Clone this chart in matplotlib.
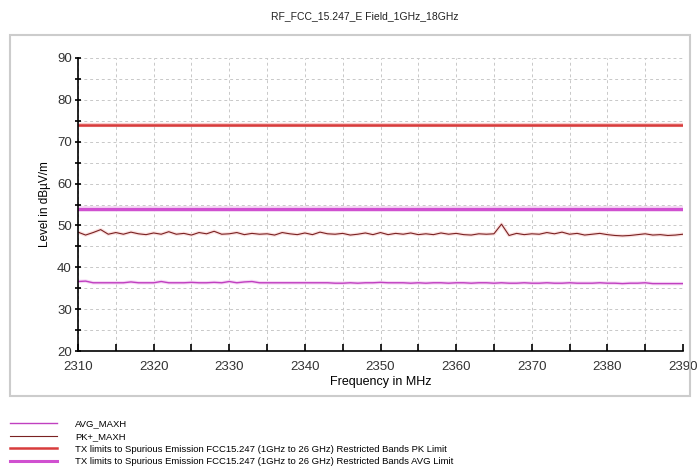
import numpy as np
import matplotlib.pyplot as plt
from matplotlib.patches import Rectangle
from matplotlib.lines import Line2D

# -----------------------------------------
# Datos
# -----------------------------------------
freq = np.arange(2310, 2391, 1)  # MHz

pk_maxh = [48.4, 47.7, 48.3, 49.0, 47.9, 48.3, 47.9, 48.4, 48.0, 47.8,
           48.2, 47.9, 48.5, 47.9, 48.1, 47.7, 48.3, 48.0, 48.6, 47.9,
           48.0, 48.3, 47.8, 48.1, 47.9, 48.0, 47.7, 48.3, 48.0, 47.8,
           48.2, 47.8, 48.4, 48.0, 47.9, 48.1, 47.7, 47.9, 48.2, 47.8,
           48.3, 47.8, 48.1, 47.9, 48.2, 47.8, 48.0, 47.8, 48.2, 47.9,
           48.1, 47.8, 47.7, 48.0, 47.9, 48.0, 50.3, 47.6, 48.1, 47.8,
           48.0, 47.9, 48.3, 48.0, 48.4, 47.9, 48.1, 47.7, 47.9, 48.1,
           47.8, 47.6, 47.5, 47.6, 47.8, 48.0, 47.7, 47.8, 47.6, 47.7,
           47.9]

avg_maxh = [36.6, 36.7, 36.3, 36.3, 36.3, 36.3, 36.3, 36.5, 36.3, 36.3,
            36.3, 36.6, 36.3, 36.3, 36.3, 36.4, 36.3, 36.3, 36.4, 36.3,
            36.6, 36.3, 36.5, 36.6, 36.3, 36.3, 36.3, 36.3, 36.3, 36.3,
            36.3, 36.3, 36.3, 36.3, 36.2, 36.2, 36.3, 36.2, 36.3, 36.3,
            36.4, 36.3, 36.3, 36.3, 36.2, 36.3, 36.2, 36.3, 36.3, 36.2,
            36.3, 36.3, 36.2, 36.3, 36.3, 36.2, 36.3, 36.2, 36.2, 36.3,
            36.2, 36.2, 36.3, 36.2, 36.2, 36.3, 36.2, 36.2, 36.2, 36.3,
            36.2, 36.2, 36.1, 36.2, 36.2, 36.3, 36.1, 36.1, 36.1, 36.1,
            36.1]

pk_limit = [74, 74]
avg_limit = [54, 54]
limit_freq = [2310, 2390]

labels = ["AVG_MAXH", "PK+_MAXH",
          "TX limits to Spurious Emission FCC15.247 (1GHz to 26 GHz) Restricted Bands PK Limit",
          "TX limits to Spurious Emission FCC15.247 (1GHz to 26 GHz) Restricted Bands AVG Limit"]

col_avg = "#c040c0"
col_pk = "#7a2222"
col_pklim = "#d83c3c"
col_avglim = "#d050d0"

# -----------------------------------------
# Figura
# -----------------------------------------
plt.rcParams['font.family'] = ['Liberation Sans', 'DejaVu Sans']
fig = plt.figure(figsize=(7, 4.75), dpi=100)

# marco gris alrededor del gráfico
fig.patches.append(Rectangle((10/700, 1-396/475), 680/700, 361/475,
                             transform=fig.transFigure, fill=False,
                             edgecolor="#cccccc", linewidth=1.5))

fig.text(365/700, 1-16/475, "RF_FCC_15.247_E Field_1GHz_18GHz",
         ha="center", va="center", fontsize=7.5, color="#222222")

ax = fig.add_axes([78/700, 1-351/475, 605/700, 293/475])

ax.plot(limit_freq, pk_limit, color="#f8cccc", lw=3, solid_capstyle="butt")
ax.plot(limit_freq, pk_limit, color=col_pklim, lw=1.8)
ax.plot(limit_freq, avg_limit, color="#f3d0f3", lw=4, solid_capstyle="butt")
ax.plot(limit_freq, avg_limit, color=col_avglim, lw=2.2)
ax.plot(freq, pk_maxh, color="#fbe0e0", lw=2.5)
ax.plot(freq, pk_maxh, color=col_pk, lw=0.8)
ax.plot(freq, avg_maxh, color="#f6d8f6", lw=2.5)
ax.plot(freq, avg_maxh, color=col_avg, lw=1.0)

ax.set_xlim(2310, 2390)
ax.set_ylim(20, 90)
ax.set_xticks(np.arange(2310, 2391, 10))
ax.set_xticks(np.arange(2315, 2391, 10), minor=True)
ax.set_yticks(np.arange(20, 91, 10))
ax.set_yticks(np.arange(25, 90, 10), minor=True)
ax.grid(True, which="both", linestyle=(0, (3, 3)), color="#c8c8c8", lw=0.7)

for s in ["top", "right"]:
    ax.spines[s].set_visible(False)
ax.spines["left"].set_linewidth(1.2)
ax.spines["bottom"].set_linewidth(1.2)
ax.tick_params(axis="y", which="both", direction="inout", length=5, width=1.2,
               labelsize=9.5, labelcolor="#333333", pad=2)
ax.tick_params(axis="x", which="both", direction="in", length=5, width=1.2,
               labelsize=9.5, labelcolor="#333333", pad=7)

ax.set_xlabel("Frequency in MHz", fontsize=9, labelpad=2)
ax.set_ylabel("Level in dBµV/m", fontsize=8.5, labelpad=4)

handles = [Line2D([], [], color=col_avg, lw=1.0),
           Line2D([], [], color=col_pk, lw=0.8),
           Line2D([], [], color=col_pklim, lw=1.8),
           Line2D([], [], color=col_avglim, lw=2.2)]
fig.legend(handles, labels, loc="upper left", bbox_to_anchor=(0.005, 1-413/475),
           frameon=False, fontsize=6.8, handlelength=5.0, handletextpad=1.9,
           labelspacing=0.38, borderaxespad=0.3)

fig.savefig("out.png", dpi=100)
